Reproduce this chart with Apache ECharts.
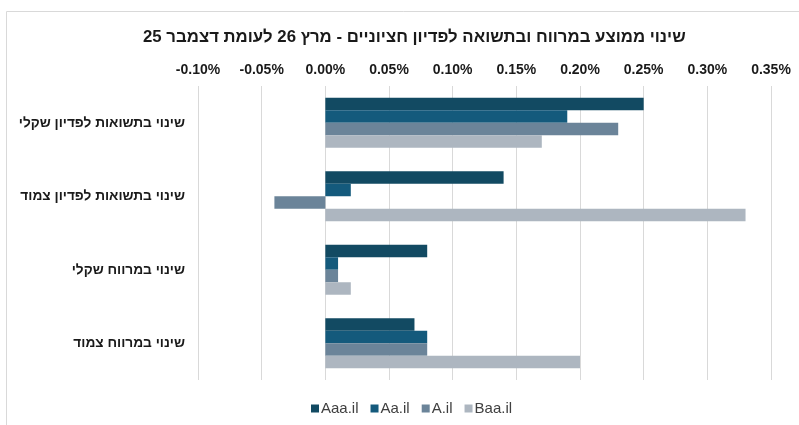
<!DOCTYPE html>
<html>
<head>
<meta charset="utf-8">
<script src="https://cdn.jsdelivr.net/npm/echarts@6/dist/echarts.min.js"></script>
<style>html,body{margin:0;padding:0;background:#fff;}#c{width:799px;height:425px;}</style>
</head>
<body>
<div id="c"></div>
<script>
const categories = ['שינוי בתשואות לפדיון שקלי', 'שינוי בתשואות לפדיון צמוד', 'שינוי במרווח שקלי', 'שינוי במרווח צמוד'];
const seriesNames = ['Aaa.il', 'Aa.il', 'A.il', 'Baa.il'];
const aaa = [0.25, 0.14, 0.08, 0.07];
const aa = [0.19, 0.02, 0.01, 0.08];
const a = [0.23, -0.04, 0.01, 0.08];
const baa = [0.17, 0.33, 0.02, 0.20];
const titleText = 'שינוי ממוצע במרווח ובתשואה לפדיון חציוניים - מרץ 26 לעומת דצמבר 25';
const colors = ['#124a62', '#145a7c', '#6b8499', '#adb6c0'];
const values = [aaa, aa, a, baa];

const chart = echarts.init(document.getElementById('c'));
const font = '"Liberation Sans", Arial, sans-serif';
chart.setOption({
  animation: false,
  textStyle: { fontFamily: font },
  title: {
    text: titleText, left: 143, top: 29, padding: 0,
    textStyle: { fontSize: 16.8, fontWeight: 'bold', color: '#1a1a1a', fontFamily: font }
  },
  graphic: [{
    type: 'rect', shape: { x: 6.5, y: 11.5, width: 900, height: 500 },
    style: { fill: 'none', stroke: '#d9d9d9', lineWidth: 1 }, silent: true, z: -10
  }],
  legend: {
    bottom: 4, left: 306, icon: 'rect', itemWidth: 8, itemHeight: 8, itemGap: 12,
    textStyle: { fontSize: 15, color: '#404040', fontFamily: font, padding: [0, 0, 0, -3] },
    data: seriesNames
  },
  grid: { left: 198, right: 28, top: 86, bottom: 45, containLabel: false },
  xAxis: {
    type: 'value', position: 'top', min: -0.1, max: 0.35, interval: 0.05,
    axisLine: { show: false }, axisTick: { show: false },
    axisLabel: { formatter: v => v.toFixed(2) + '%', fontSize: 14, fontWeight: 'bold', color: '#1a1a1a', margin: 9 },
    splitLine: { lineStyle: { color: '#d9d9d9' } }
  },
  yAxis: {
    type: 'category', data: categories, inverse: true,
    axisLine: { show: false }, axisTick: { show: false },
    axisLabel: { fontSize: 13.7, fontWeight: 'bold', color: '#1a1a1a', margin: 13 }
  },
  series: seriesNames.map((n, i) => ({
    name: n, type: 'bar', data: values[i], barGap: '0%', barCategoryGap: '32%',
    itemStyle: { color: colors[i] }
  }))
});
</script>
</body>
</html>
